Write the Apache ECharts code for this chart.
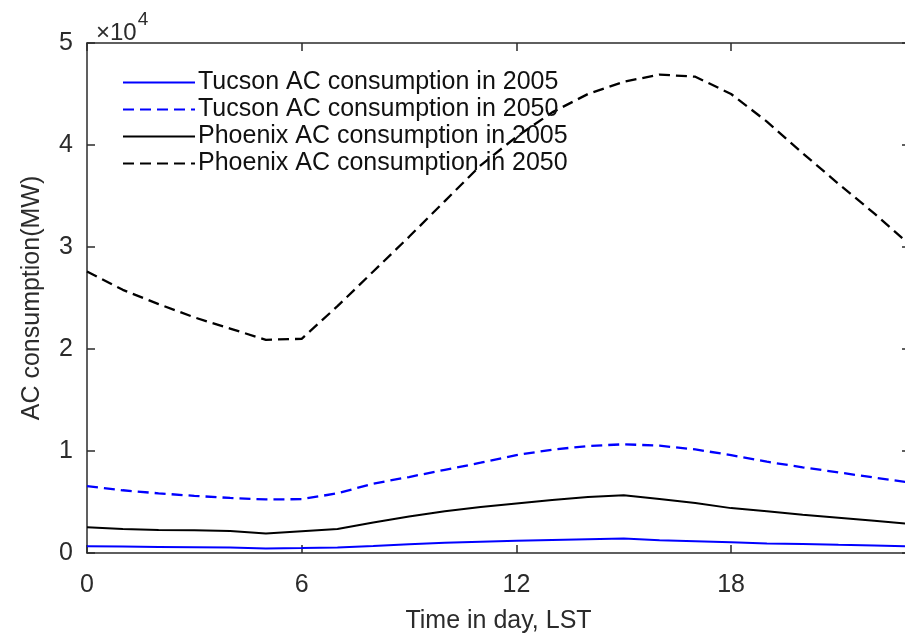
<!DOCTYPE html>
<html>
<head>
<meta charset="utf-8">
<title>AC consumption</title>
<script src="https://cdn.jsdelivr.net/npm/echarts@6/dist/echarts.min.js"></script>
<style>
    html,body{margin:0;padding:0;background:#fff;}
    #main{width:905px;height:638px;}
</style>
</head>
<body>
<div id="main"></div>
<script>
// hours of the day (LST)
var hours = [0,1,2,3,4,5,6,7,8,9,10,11,12,13,14,15,16,17,18,19,20,21,22,23];

// AC consumption, MW
var tucson2005 = [660,630,600,570,530,450,480,550,680,850,1000,1100,1200,1280,1350,1410,1250,1150,1050,920,880,800,730,660];
var tucson2050 = [6560,6150,5850,5600,5400,5250,5280,5850,6800,7450,8150,8850,9600,10130,10490,10660,10520,10150,9600,8950,8400,7900,7400,6900];
var phoenix2005 = [2520,2350,2250,2220,2150,1900,2130,2350,3000,3570,4100,4500,4850,5200,5480,5670,5300,4900,4400,4100,3750,3450,3150,2850];
var phoenix2050 = [27600,25800,24400,23100,22000,20900,21000,24200,27600,31000,34500,38000,40800,43200,45000,46200,46900,46700,45000,42300,39200,36200,33300,30200];

var seriesNames = ['Tucson AC consumption in 2005','Tucson AC consumption in 2050',
                   'Phoenix AC consumption in 2005','Phoenix AC consumption in 2050'];

var yTicks = ['0','1','2','3','4','5'];

function pairs(ys){
    var out = [];
    for (let i = 0; i < hours.length; i++) {
        out.push([hours[i], ys[i]]);
    }
    return out;
}

var axisColor = '#2b2b2b';
var font = 'Liberation Sans, Arial, Helvetica, sans-serif';

function mkSeries(name, data, color, dashed){
    return {
        name: name,
        type: 'line',
        data: pairs(data),
        symbol: 'none',
        smooth: false,
        lineStyle: {color: color, width: dashed ? 2.3 : 2, type: dashed ? [11,6] : 'solid'},
        itemStyle: {color: color}
    };
}

//四条边框都带刻度
function axisBase(){
    return {
        axisLine: {show: true, onZero: false, lineStyle: {color: axisColor, width: 1.5}},
        axisTick: {show: true, inside: true, length: 8, lineStyle: {color: axisColor, width: 1.5}},
        splitLine: {show: false}
    };
}

var xBottom = Object.assign(axisBase(), {
    type: 'value', position: 'bottom',
    min: 0, max: 23, interval: 6,
    name: 'Time in day, LST',
    nameLocation: 'middle',
    nameGap: 56,
    nameTextStyle: {fontFamily: font, fontSize: 25, color: axisColor},
    axisLabel: {fontFamily: font, fontSize: 25, color: axisColor, margin: 20, showMaxLabel: false}
});
var xTop = Object.assign(axisBase(), {
    type: 'value', position: 'top',
    min: 0, max: 23, interval: 6,
    axisLabel: {show: false}
});
var yLeft = Object.assign(axisBase(), {
    type: 'value', position: 'left',
    min: 0, max: 50000, interval: 10000,
    name: 'AC consumption(MW)',
    nameLocation: 'middle',
    nameGap: 42,
    nameTextStyle: {fontFamily: font, fontSize: 25, color: axisColor},
    axisLabel: {
        fontFamily: font, fontSize: 25, color: axisColor, margin: 14,
        formatter: function(v){ return yTicks[Math.round(v/10000)]; }
    }
});
var yRight = Object.assign(axisBase(), {
    type: 'value', position: 'right',
    min: 0, max: 50000, interval: 10000,
    axisLabel: {show: false}
});

var myChart = echarts.init(document.getElementById('main'));
var option = {
    animation: false,
    backgroundColor: '#fff',
    title: {
        left: 91,
        top: 0,
        text: '{b|×10}{s|4}',
        textStyle: {
            rich: {
                b: {fontFamily: font, fontSize: 24, fontWeight: 'normal', color: axisColor, padding: [16,0,0,0]},
                s: {fontFamily: font, fontSize: 19, fontWeight: 'normal', color: axisColor, padding: [0,0,10,1]}
            }
        }
    },
    legend: {
        orient: 'vertical',
        left: 122,
        top: 69,
        itemWidth: 72,
        itemHeight: 14,
        itemGap: 0,
        padding: 0,
        data: seriesNames,
        itemStyle: {opacity: 0},
        textStyle: {fontFamily: font, fontSize: 25, color: '#111', lineHeight: 27, padding: [0,0,0,-2]}
    },
    grid: {left: 87, top: 43, width: 823, height: 510, containLabel: false, outerBoundsMode: 'none'},
    xAxis: [xBottom, xTop],
    yAxis: [yLeft, yRight],
    series: [
        mkSeries(seriesNames[0], tucson2005, '#0000ff', false),
        mkSeries(seriesNames[1], tucson2050, '#0000ff', true),
        mkSeries(seriesNames[2], phoenix2005, '#000000', false),
        mkSeries(seriesNames[3], phoenix2050, '#000000', true)
    ]
};
myChart.setOption(option);
</script>
</body>
</html>
